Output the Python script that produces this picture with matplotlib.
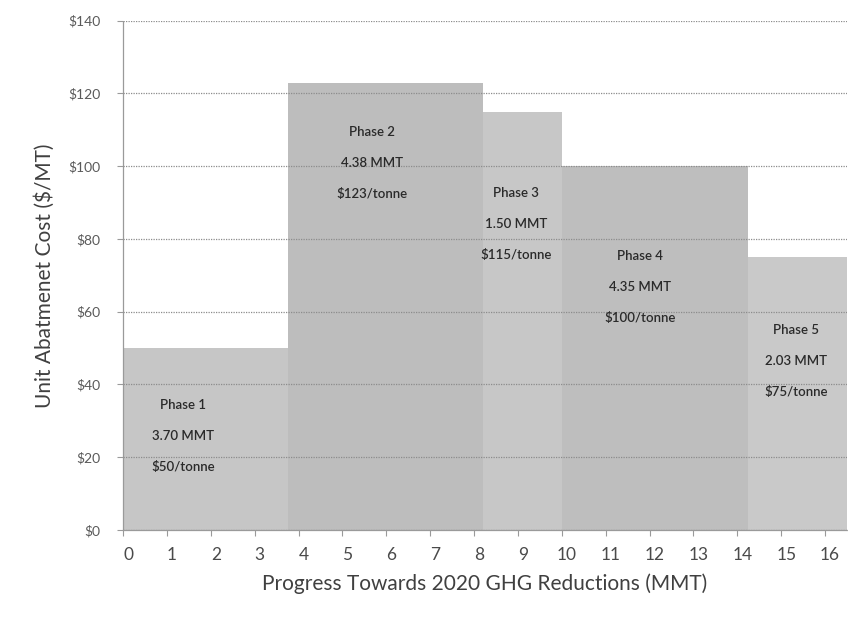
import matplotlib.pyplot as plt
import matplotlib.transforms as mtransforms

# phase data
phases = ['Phase 1', 'Phase 2', 'Phase 3', 'Phase 4', 'Phase 5']
mmt = [3.70, 4.38, 1.50, 4.35, 2.03]
cost = [50, 123, 115, 100, 75]
# bar edges as drawn on the x axis (MMT)
edges = [0, 3.75, 8.2, 10.0, 14.25, 16.5]

shades = ['#c6c6c6', '#bdbdbd', '#c7c7c7', '#bebebe', '#c9c9c9']
# label anchor (x, y of first line) for each phase
label_pos = [(1.37, 34.4), (5.67, 109.4), (8.95, 92.6), (11.78, 75.3), (15.33, 55.0)]

plt.rcParams['font.family'] = ['Lato', 'DejaVu Sans']

fig = plt.figure(figsize=(8.56, 6.23), dpi=100)
ax = fig.add_axes([0.1437, 0.1493, 0.8458, 0.8175])

lefts = edges[:-1]
widths = [edges[i + 1] - edges[i] for i in range(len(lefts))]
ax.bar(lefts, cost, width=widths, align='edge', color=shades, linewidth=0, zorder=1)

ax.set_xlim(0, 16.5)
ax.set_ylim(0, 140)
ax.set_xticks(range(17))
ax.set_yticks(range(0, 141, 20))
ax.set_yticklabels(['$%d' % v for v in range(0, 141, 20)])

ax.grid(axis='y', color='#8c8c8c', linestyle=(0, (1, 1)), linewidth=0.9, zorder=2)
ax.set_axisbelow(False)

for s in ['top', 'right']:
    ax.spines[s].set_visible(False)
for s in ['left', 'bottom']:
    ax.spines[s].set_color('#9a9a9a')
    ax.spines[s].set_linestyle((0, (1, 1)))
    ax.spines[s].set_linewidth(0.9)

ax.tick_params(axis='x', colors='#9a9a9a', labelcolor='#4a4a4a', labelsize=12.5, length=4, pad=8)
ax.tick_params(axis='y', colors='#9a9a9a', labelcolor='#5a5a5a', labelsize=10, length=4, pad=12)

# x tick labels sit a few pixels right of their ticks in the original
shift = mtransforms.ScaledTranslation(5 / 100, 0, fig.dpi_scale_trans)
for lab in ax.get_xticklabels():
    lab.set_transform(lab.get_transform() + shift)

ax.set_xlabel('Progress Towards 2020 GHG Reductions (MMT)', fontsize=15, color='#404040', labelpad=8)
ax.set_ylabel('Unit Abatmenet Cost ($/MT)', fontsize=15, color='#404040', labelpad=10)

for i in range(len(phases)):
    x, y = label_pos[i]
    lines = [phases[i], '%.2f MMT' % mmt[i], '$%d/tonne' % cost[i]]
    for k, t in enumerate(lines):
        ax.text(x, y - 8.5 * k, t, ha='center', va='center', fontsize=9.5,
                color='#2a2a2a', fontweight='semibold', zorder=3)

fig.savefig('out.png', dpi=100)
